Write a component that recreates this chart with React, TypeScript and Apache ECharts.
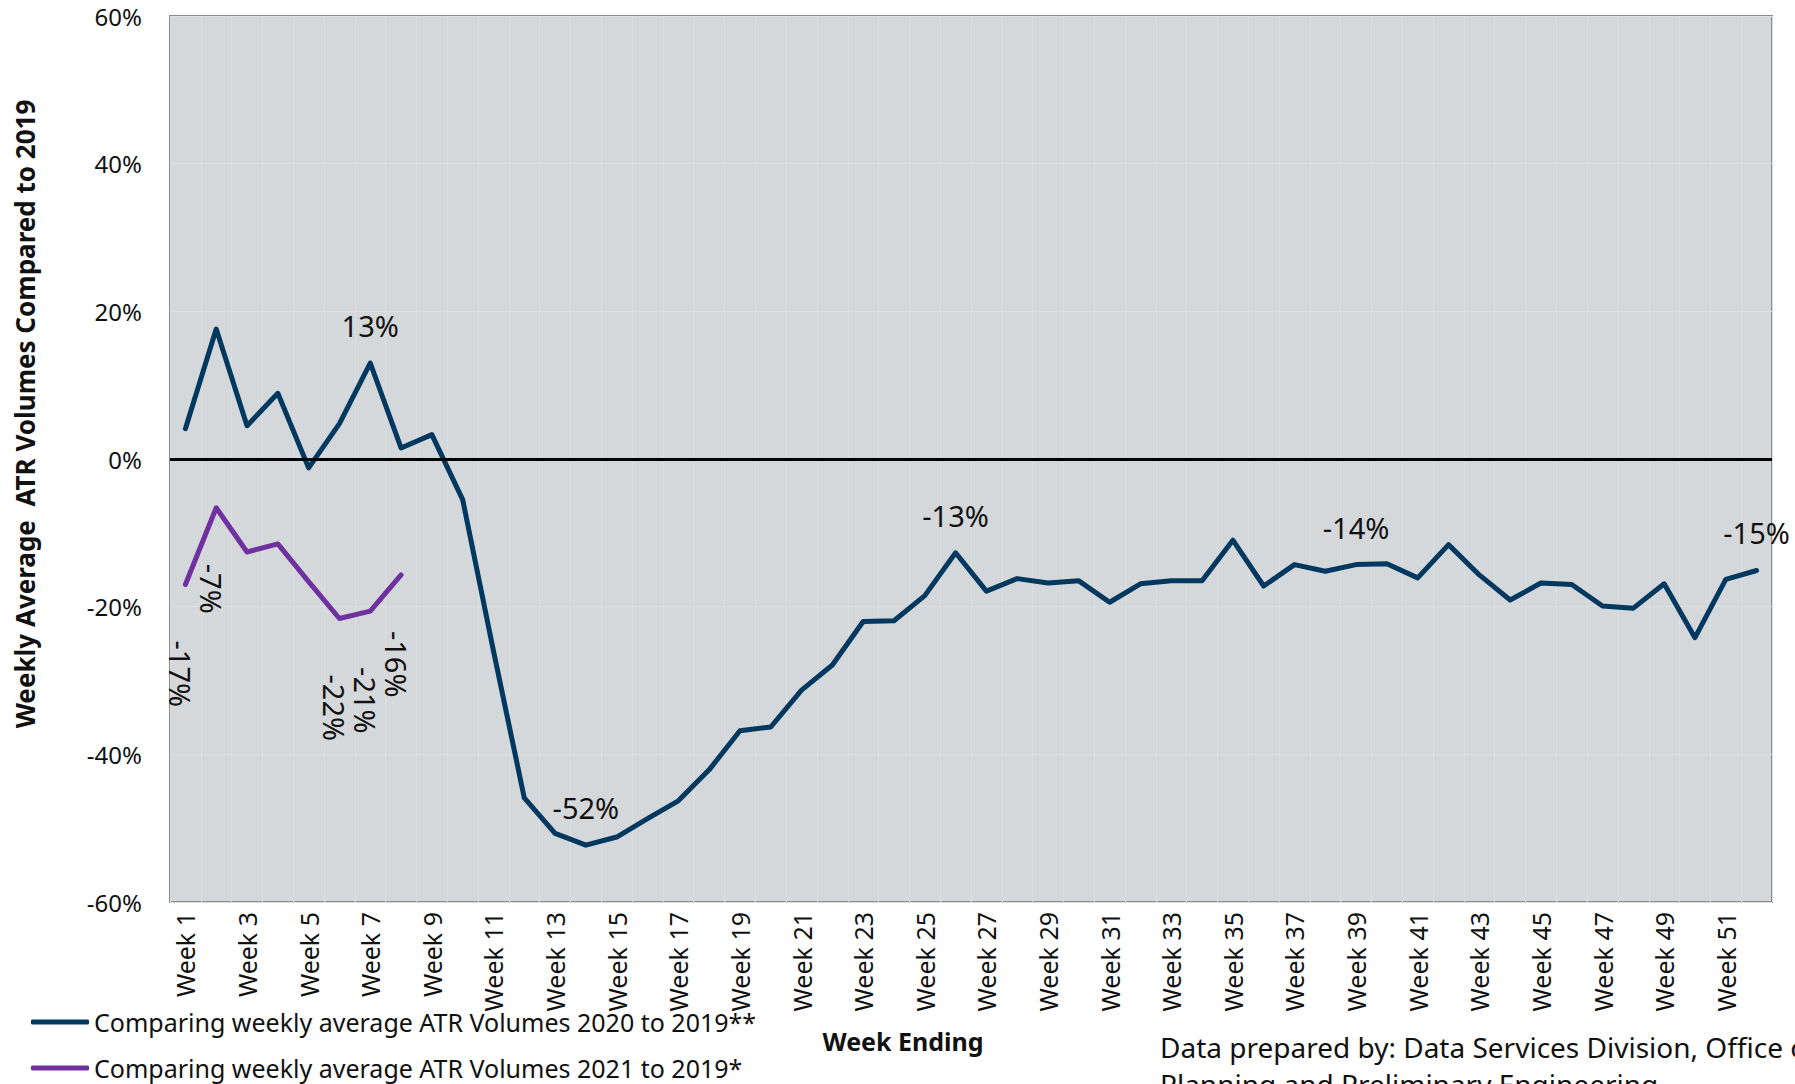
import React, { useEffect, useRef } from "react";
import * as echarts from "echarts";

const weeks: string[] = Array.from({ length: 52 }, (_, i) => `Week ${i + 1}`);

const seriesNames = [
  "Comparing weekly average ATR Volumes 2020 to 2019**",
  "Comparing weekly average ATR Volumes 2021 to 2019*",
];

const values2020 = [
  4.1, 17.6, 4.5, 8.9, -1.2, 4.8, 13.0, 1.5, 3.3, -5.5,
  -26.0, -45.9, -50.7, -52.3, -51.2, -48.7, -46.3, -42.1, -36.8, -36.3,
  -31.3, -27.9, -22.0, -21.9, -18.5, -12.7, -17.9, -16.2, -16.8, -16.5,
  -19.4, -16.9, -16.5, -16.5, -11.0, -17.2, -14.3, -15.2, -14.3, -14.2,
  -16.1, -11.6, -15.7, -19.1, -16.8, -17.0, -19.9, -20.2, -16.9, -24.2,
  -16.3, -15.1,
];

const values2021 = [-17.0, -6.6, -12.6, -11.5, -16.6, -21.6, -20.6, -15.7];

const labeled2020 = [6, 13, 25, 38, 51];
const labeled2021 = [0, 1, 5, 6, 7];

const yMin = -60;
const yMax = 60;
const yStep = 20;

const NAVY = "#003860";
const PURPLE = "#7030a0";
const FONT = "'Noto Sans', 'Open Sans', sans-serif";
const TEXT = "#111111";

const pct = (p: any) => `${Math.round(p.value)}%`;

export default function App() {
  const ref = useRef<HTMLDivElement>(null);

  useEffect(() => {
    if (!ref.current) return;
    const chart = echarts.init(ref.current, undefined, { renderer: "svg" });

    const option: any = {
      animation: false,
      backgroundColor: "#ffffff",
      textStyle: { fontFamily: FONT },
      grid: {
        left: 170,
        right: 23,
        top: 16,
        bottom: 182,
        show: true,
        backgroundColor: "#d5d8da",
        borderColor: "#8c8c8c",
        borderWidth: 2,
      },
      xAxis: {
        type: "category",
        data: weeks,
        boundaryGap: true,
        axisLine: { show: false },
        axisTick: { show: false },
        axisLabel: {
          interval: 1,
          rotate: 90,
          fontSize: 25,
          color: TEXT,
          margin: 10,
          fontFamily: FONT,
        },
        splitLine: { show: true, interval: 0, lineStyle: { color: "#dcdfe1", width: 1 } },
      },
      yAxis: {
        type: "value",
        min: yMin,
        max: yMax,
        interval: yStep,
        axisLine: { show: false },
        axisTick: { show: false },
        axisLabel: { formatter: "{value}%", fontSize: 24, color: TEXT, margin: 28, fontFamily: FONT },
        splitLine: { show: true, lineStyle: { color: "#dcdfe1", width: 1 } },
      },
      legend: {
        orient: "vertical",
        left: 31,
        top: 1008,
        padding: 0,
        itemWidth: 58,
        itemHeight: 5,
        itemGap: 18,
        icon: "roundRect",
        data: seriesNames,
        textStyle: { fontSize: 25, color: TEXT, lineHeight: 28, fontFamily: FONT },
      },
      series: [
        {
          name: seriesNames[0],
          type: "line",
          data: values2020.map((v, i) =>
            labeled2020.includes(i) ? { value: v, label: { show: true } } : v
          ),
          symbol: "circle",
          symbolSize: 1,
          showSymbol: true,
          showAllSymbol: true,
          lineStyle: { color: NAVY, width: 5, cap: "round", join: "round" },
          itemStyle: { color: NAVY },
          label: {
            show: false,
            position: "top",
            distance: 22,
            fontSize: 29,
            lineHeight: 30,
            color: TEXT,
            fontFamily: FONT,
            formatter: pct,
          },
          markLine: {
            silent: true,
            symbol: "none",
            label: { show: false },
            lineStyle: { color: "#000000", width: 3, type: "solid" },
            data: [{ yAxis: 0 }],
          },
          z: 3,
        },
        {
          name: seriesNames[1],
          type: "line",
          data: values2021.map((v, i) =>
            labeled2021.includes(i) ? { value: v, label: { show: true } } : v
          ),
          symbol: "circle",
          symbolSize: 1,
          showSymbol: true,
          showAllSymbol: true,
          lineStyle: { color: PURPLE, width: 5, cap: "round", join: "round" },
          itemStyle: { color: PURPLE },
          label: {
            show: false,
            position: "inside",
            rotate: -90,
            align: "left",
            verticalAlign: "middle",
            offset: [56, 5],
            fontSize: 29,
            lineHeight: 30,
            color: TEXT,
            fontFamily: FONT,
            formatter: pct,
          },
          z: 4,
        },
      ],
      graphic: [
        {
          type: "text",
          x: 25,
          y: 414,
          rotation: Math.PI / 2,
          style: {
            text: "Weekly Average  ATR Volumes Compared to 2019",
            fontSize: 26,
            fontWeight: "bold",
            fontFamily: FONT,
            fill: TEXT,
            align: "center",
            textAlign: "center",
            verticalAlign: "middle",
            textVerticalAlign: "middle",
          },
        },
        {
          type: "text",
          x: 903,
          y: 1041,
          style: {
            text: "Week Ending",
            fontSize: 25,
            fontWeight: "bold",
            fontFamily: FONT,
            fill: TEXT,
            align: "center",
            textAlign: "center",
            verticalAlign: "middle",
            textVerticalAlign: "middle",
          },
        },
        {
          type: "text",
          x: 1160,
          y: 1028,
          style: {
            text: "Data prepared by: Data Services Division, Office of\nPlanning and Preliminary Engineering",
            fontSize: 28,
            lineHeight: 37,
            fontFamily: FONT,
            fill: TEXT,
            align: "left",
            textAlign: "left",
            verticalAlign: "top",
            textVerticalAlign: "top",
          },
        },
      ],
    };

    chart.setOption(option);
    return () => chart.dispose();
  }, []);

  return (
    <div
      ref={ref}
      style={{ position: "fixed", left: 0, top: 0, width: 1795, height: 1084 }}
    />
  );
}
